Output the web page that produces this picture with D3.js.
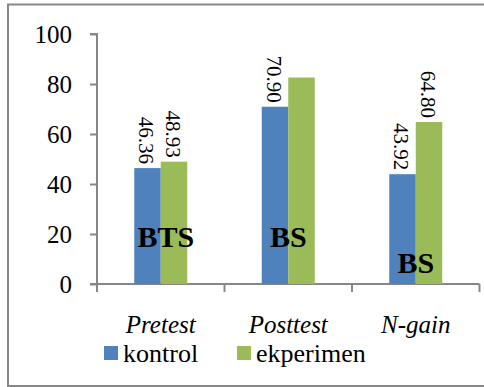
<!DOCTYPE html>
<html><head><meta charset="utf-8">
<script src="https://cdn.jsdelivr.net/npm/d3@7"></script>
</head><body style="margin:0"><svg id="c" width="484" height="387"></svg>
<script>
const categories = ["Pretest", "Posttest", "N-gain"];
const seriesNames = ["kontrol", "ekperimen"];
const kontrol = [46.36, 70.90, 43.92];
const ekperimen = [48.93, 82.6, 64.80];
const kontrolLabels = ["46.36", "70.90", "43.92"];
const ekperimenLabels = ["48.93", "", "64.80"];
const yTicks = [0, 20, 40, 60, 80, 100];
const notes = ["BTS", "BS", "BS"];
const noteLevels = [14.8, 14.8, 4.4];
const colors = ["#4F81BD", "#9BBB59"];

const svg = d3.select("#c");
function txt(sel, size) {
  return sel.style("font-family", "Liberation Serif").style("font-size", size + "px");
}
// outer frame
svg.append("rect").attr("x", 8).attr("y", 4.5).attr("width", 490).attr("height", 381.5)
  .attr("fill", "none").attr("stroke", "#888").attr("stroke-width", 2);

const x0 = d3.scaleBand().domain(categories).range([97, 479.5]).paddingInner(0).paddingOuter(0);
const y = d3.scaleLinear().domain([0, 100]).range([284, 34]);
const groupW = 53;
const x1 = d3.scaleBand().domain(seriesNames).range([0, groupW]);
const off = (x0.bandwidth() - groupW) / 2;
const axisCol = "#868686";

// y axis
const ya = svg.append("g").attr("transform", "translate(97,0)")
  .call(d3.axisLeft(y).tickValues(yTicks).tickSize(7).tickPadding(18).tickFormat(d3.format("d")));
ya.select(".domain").attr("stroke", axisCol).attr("stroke-width", 2).attr("d", "M-7,34H0V284");
ya.selectAll(".tick line").attr("stroke", axisCol).attr("stroke-width", 2);
txt(ya.selectAll(".tick text").attr("fill", "#000"), 25);

// x axis line + separators
const xa = svg.append("g");
xa.append("line").attr("x1", 90).attr("x2", 479.5).attr("y1", 284).attr("y2", 284)
  .attr("stroke", axisCol).attr("stroke-width", 2);
const bounds = categories.map(c => x0(c)).concat([x0(categories[2]) + x0.bandwidth()]);
xa.selectAll("line.sep").data(bounds).enter().append("line").attr("class", "sep")
  .attr("x1", d => d).attr("x2", d => d).attr("y1", 284).attr("y2", 292)
  .attr("stroke", axisCol).attr("stroke-width", 2);
txt(xa.selectAll("text").data(categories).enter().append("text")
  .attr("x", d => x0(d) + x0.bandwidth() / 2).attr("y", 333)
  .attr("text-anchor", "middle").style("font-style", "italic").text(d => d), 25);

const series = [kontrol, ekperimen];
const labels = [kontrolLabels, ekperimenLabels];
series.forEach((vals, si) => {
  const g = svg.append("g");
  g.selectAll("rect").data(vals).enter().append("rect")
    .attr("x", (d, i) => x0(categories[i]) + off + x1(seriesNames[si]))
    .attr("width", x1.bandwidth())
    .attr("y", d => y(d)).attr("height", d => y(0) - y(d))
    .attr("fill", colors[si]);
  txt(g.selectAll("text").data(vals).enter().append("text")
    .attr("transform", (d, i) => {
      const cx = x0(categories[i]) + off + x1(seriesNames[si]) + x1.bandwidth() / 2 - 1;
      return `translate(${cx},${y(d) - 4}) rotate(90)`;
    })
    .attr("dy", "0.35em").attr("text-anchor", "end")
    .text((d, i) => labels[si][i]), 21);
});

// annotations
txt(svg.append("g").selectAll("text").data(notes).enter().append("text")
  .attr("x", (d, i) => x0(categories[i]) + x0.bandwidth() / 2 + (i === 0 ? 5 : 0))
  .attr("y", (d, i) => y(noteLevels[i]))
  .attr("text-anchor", "middle").style("font-weight", "bold").text(d => d), 30);

// legend
const lg = svg.append("g");
const legX = [104, 237];
seriesNames.forEach((n, i) => {
  lg.append("rect").attr("x", legX[i]).attr("y", 346).attr("width", 14).attr("height", 14).attr("fill", colors[i]);
  txt(lg.append("text").attr("x", legX[i] + 19).attr("y", 362).text(n), 26);
});
</script></body></html>
